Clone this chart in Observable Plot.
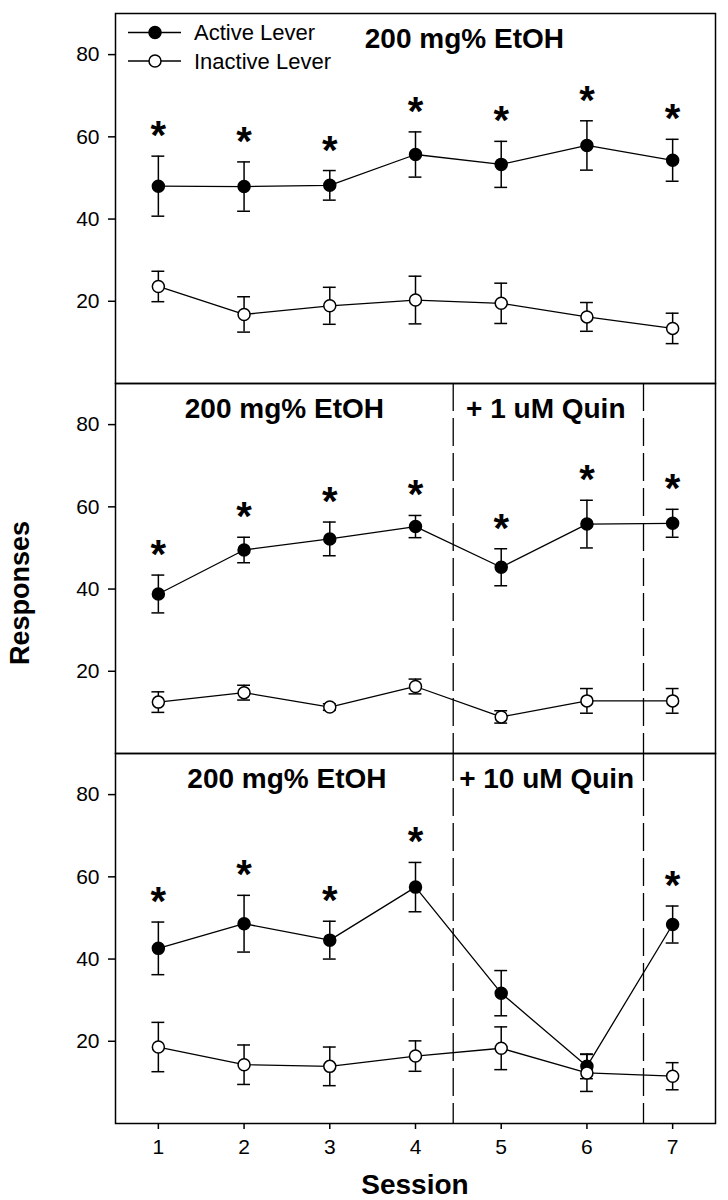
<!DOCTYPE html>
<html><head><meta charset="utf-8">
<script src="https://cdn.jsdelivr.net/npm/d3@7"></script>
<script src="https://cdn.jsdelivr.net/npm/@observablehq/plot@0.6"></script>
<style>
body{margin:0;background:#fff;}
#chart{width:728px;height:1200px;}
</style></head><body><div id="chart"></div>
<script>
const sessions = [1, 2, 3, 4, 5, 6, 7];
const panels = ["EtOH", "EtOH + 1 uM Quin", "EtOH + 10 uM Quin"];
const levers = ["Active Lever", "Inactive Lever"];

const activeMean = [
  [48.0, 47.9, 48.2, 55.7, 53.3, 57.9, 54.3],
  [38.8, 49.5, 52.2, 55.2, 45.3, 55.8, 56.0],
  [42.6, 48.6, 44.6, 57.5, 31.7, 13.9, 48.4]
];
const activeSem = [
  [7.3, 6.0, 3.6, 5.5, 5.6, 6.0, 5.1],
  [4.6, 3.1, 4.1, 2.7, 4.5, 5.8, 3.4],
  [6.4, 6.9, 4.6, 6.0, 5.5, 3.0, 4.5]
];
const activeSig = [
  [1, 1, 1, 1, 1, 1, 1],
  [1, 1, 1, 1, 1, 1, 1],
  [1, 1, 1, 1, 0, 0, 1]
];
const inactiveMean = [
  [23.6, 16.8, 18.9, 20.3, 19.5, 16.2, 13.4],
  [12.5, 14.8, 11.3, 16.3, 8.9, 12.8, 12.8],
  [18.6, 14.3, 13.9, 16.4, 18.3, 12.3, 11.5]
];
const inactiveSem = [
  [3.7, 4.3, 4.5, 5.8, 4.9, 3.5, 3.7],
  [2.5, 1.8, 0.8, 1.8, 1.5, 3.0, 3.0],
  [6.0, 4.8, 4.7, 3.7, 5.2, 4.5, 3.3]
];
const phaseBoundaries = [
  {panel: panels[1], session: 4.44}, {panel: panels[1], session: 6.66},
  {panel: panels[2], session: 4.44}, {panel: panels[2], session: 6.66}
];
const panelTitles = [
  {panel: panels[0], label: "200 mg% EtOH", session: 4.57},
  {panel: panels[1], label: "200 mg% EtOH", session: 2.47},
  {panel: panels[1], label: "+ 1 uM Quin", session: 5.52},
  {panel: panels[2], label: "200 mg% EtOH", session: 2.5},
  {panel: panels[2], label: "+ 10 uM Quin", session: 5.53}
];
const yTicks = [20, 40, 60, 80];

const rows = [];
panels.forEach((p, i) => sessions.forEach((s, j) => {
  rows.push({panel: p, session: s, lever: levers[0], mean: activeMean[i][j], sem: activeSem[i][j], sig: activeSig[i][j]});
  rows.push({panel: p, session: s, lever: levers[1], mean: inactiveMean[i][j], sem: inactiveSem[i][j], sig: 0});
}));
const capHalf = 0.075;
const FONT = "'Liberation Sans', Arial, sans-serif";

const svg = Plot.plot({
  width: 728, height: 1200,
  marginLeft: 115, marginRight: 13, marginTop: 13, marginBottom: 77,
  style: {fontFamily: FONT, fontSize: "21px", color: "black", background: "white", overflow: "visible"},
  x: {domain: [0.5, 7.5]},
  y: {domain: [0, 90]},
  fy: {domain: panels, padding: 0, axis: null},
  color: {domain: levers, range: ["black", "white"]},
  marks: [
    Plot.ruleX(phaseBoundaries, {x: "session", fy: "panel", stroke: "black", strokeWidth: 1.3, strokeDasharray: "28,7"}),
    Plot.axisY({ticks: yTicks, tickSize: 7, tickPadding: 9, fontSize: 21, label: null, strokeWidth: 1.5}),
    Plot.axisX({ticks: sessions, tickFormat: d3.format("d"), tickSize: 6, tickPadding: 10, fontSize: 21, label: null, strokeWidth: 1.5, facetAnchor: "bottom"}),
    Plot.line(rows, {x: "session", y: "mean", z: "lever", fy: "panel", stroke: "black", strokeWidth: 1.3}),
    Plot.ruleX(rows, {x: "session", y1: d => d.mean - d.sem, y2: d => d.mean + d.sem, fy: "panel", stroke: "black", strokeWidth: 1.5}),
    Plot.ruleY(rows, {y: d => d.mean + d.sem, x1: d => d.session - capHalf, x2: d => d.session + capHalf, fy: "panel", stroke: "black", strokeWidth: 1.5}),
    Plot.ruleY(rows, {y: d => d.mean - d.sem, x1: d => d.session - capHalf, x2: d => d.session + capHalf, fy: "panel", stroke: "black", strokeWidth: 1.5}),
    Plot.dot(rows, {x: "session", y: "mean", fy: "panel", r: 6, fill: "lever", stroke: "black", strokeWidth: 1.5}),
    Plot.text(rows.filter(d => d.sig), {x: "session", y: d => d.mean + d.sem, fy: "panel", text: () => "*", fontSize: 40, fontWeight: "bold", lineAnchor: "bottom", dy: -7}),
    Plot.text(panelTitles, {x: "session", fy: "panel", text: "label", frameAnchor: "top", lineAnchor: "top", dy: 15, fontSize: 28, fontWeight: "bold"}),
    Plot.frame({stroke: "black", strokeWidth: 1.5})
  ]
});

const s = d3.select(svg);
// Legend
const lg = s.append("g").attr("font-family", FONT).attr("text-anchor", "start");
levers.forEach((name, i) => {
  const y = 32.5 + i * 28.5;
  lg.append("line").attr("x1", 128).attr("x2", 181).attr("y1", y).attr("y2", y).attr("stroke", "black").attr("stroke-width", 1.3);
  lg.append("circle").attr("cx", 155).attr("cy", y).attr("r", 6).attr("fill", i === 0 ? "black" : "white").attr("stroke", "black").attr("stroke-width", 1.5);
  lg.append("text").attr("x", 194).attr("y", y).attr("dy", "0.36em").attr("font-size", 22).attr("text-anchor", "start").text(name);
});
// Axis titles
s.append("text").attr("transform", "translate(19,593) rotate(-90)").attr("text-anchor", "middle").attr("dy", "0.36em")
  .attr("font-size", 27).attr("font-weight", "bold").attr("font-family", FONT).text("Responses");
s.append("text").attr("x", 415).attr("y", 1194).attr("text-anchor", "middle")
  .attr("font-size", 28).attr("font-weight", "bold").attr("font-family", FONT).text("Session");

document.getElementById("chart").appendChild(svg);
</script></body></html>
